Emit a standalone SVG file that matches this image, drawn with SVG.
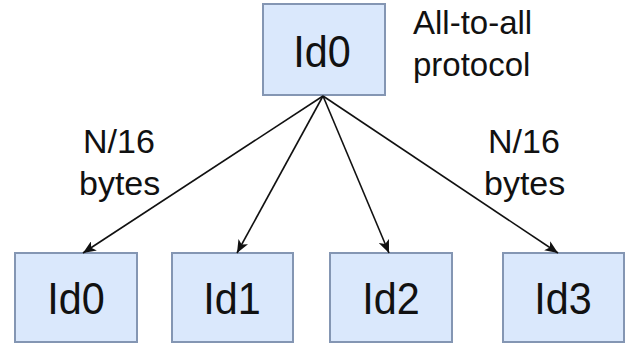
<svg xmlns="http://www.w3.org/2000/svg" width="625" height="344" viewBox="0 0 625 344">
<defs>
<marker id="ah" viewBox="0 0 12 10" refX="12" refY="5" markerWidth="13" markerHeight="11" orient="auto" markerUnits="userSpaceOnUse"><path d="M0,0 L12,5 L0,10 L3,5 z" fill="#111"/></marker>
</defs>
<style>
.box{fill:#dae8fc;stroke:#8496b3;stroke-width:2}
.lbl{font-family:"Liberation Sans",Arial,sans-serif;fill:#111}
.id{font-size:45px;text-anchor:middle}
.t{font-size:34px}
.n{font-size:33px}
.conn{stroke:#111;stroke-width:1.6;fill:none;marker-end:url(#ah)}
</style>
<rect width="625" height="344" fill="#fff"/>
<g id="top">
<rect class="box" x="263" y="4" width="122" height="91"/>
<text class="lbl id" transform="translate(322,67) scale(0.92,1)">Id0</text>
</g>
<g id="note">
<text class="lbl n" x="413" y="34">All-to-all</text>
<text class="lbl n" x="413" y="76">protocol</text>
</g>
<g id="n0">
<rect class="box" x="15" y="253" width="122" height="89"/>
<text class="lbl id" transform="translate(76,314) scale(0.92,1)">Id0</text>
</g>
<g id="n1">
<rect class="box" x="172" y="253" width="121" height="89"/>
<text class="lbl id" transform="translate(232,314) scale(0.92,1)">Id1</text>
</g>
<g id="n2">
<rect class="box" x="330" y="253" width="122" height="89"/>
<text class="lbl id" transform="translate(391,314) scale(0.92,1)">Id2</text>
</g>
<g id="n3">
<rect class="box" x="503" y="253" width="121" height="89"/>
<text class="lbl id" transform="translate(563,314) scale(0.92,1)">Id3</text>
</g>
<g id="connectors">
<line class="conn" x1="323" y1="96" x2="83" y2="253"/>
<line class="conn" x1="323" y1="96" x2="237" y2="253"/>
<line class="conn" x1="323" y1="96" x2="389" y2="253"/>
<line class="conn" x1="323" y1="96" x2="558" y2="253"/>
</g>
<g id="labels">
<text class="lbl t" x="83" y="153">N/16</text>
<text class="lbl t" x="79" y="195">bytes</text>
<text class="lbl t" x="488" y="153">N/16</text>
<text class="lbl t" x="484" y="195">bytes</text>
</g>
</svg>
